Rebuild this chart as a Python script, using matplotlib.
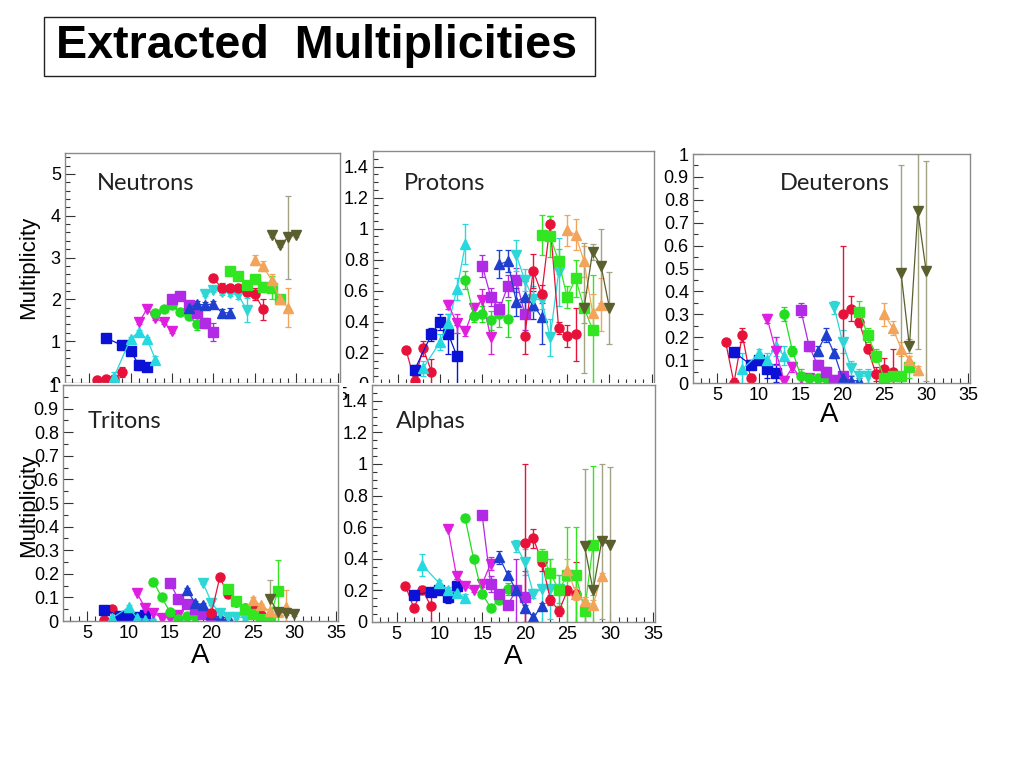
""" Extracted multiplicities per emitted particle """
import numpy as np
import matplotlib
matplotlib.use('Agg')
import matplotlib.pyplot as plt
from matplotlib.patches import Rectangle
from matplotlib.ticker import MultipleLocator, AutoMinorLocator, FormatStrFormatter

nan = np.nan

# Mass numbers of each isotope chain (Li .. Si)
ISOTOPES = ['Li', 'Be', 'B', 'C', 'N', 'O', 'F', 'Ne', 'Na', 'Mg', 'Al', 'Si']
A_LI = [6, 7, 8, 9]
A_BE = [7, 9, 10, 11, 12]
A_B = [8, 10, 11, 12, 13]
A_C = [11, 12, 13, 14, 15, 16]
A_N = [13, 14, 15, 16, 17, 18]
A_O = [15, 16, 17, 18, 19, 20]
A_F = [17, 18, 19, 20, 21, 22]
A_NE = [19, 20, 21, 22, 23, 24]
A_NA = [20, 21, 22, 23, 24, 25, 26]
A_MG = [22, 23, 24, 25, 26, 27, 28]
A_AL = [25, 26, 27, 28, 29]
A_SI = [27, 28, 29, 30]
MASS = dict(zip(ISOTOPES, [A_LI, A_BE, A_B, A_C, A_N, A_O, A_F, A_NE, A_NA, A_MG, A_AL, A_SI]))

# Neutrons
NEUTRON_M = {
    'Li': [0.06, 0.09, 0.09, 0.27], 'Be': [1.08, 0.90, 0.77, 0.43, 0.39],
    'B': [0.14, 1.06, 1.22, 1.05, 0.56], 'C': [1.45, 1.77, 1.55, 1.45, 1.24, nan],
    'N': [1.68, 1.78, 1.86, 1.70, 1.60, 1.42], 'O': [2.02, 2.09, 1.86, 1.67, 1.44, 1.22],
    'F': [1.80, 1.88, 1.87, 1.89, 1.68, 1.68], 'Ne': [2.12, 2.22, 2.18, 2.15, 2.10, 1.75],
    'Na': [2.50, 2.27, 2.27, 2.27, 2.18, 2.12, 1.76], 'Mg': [2.68, 2.56, 2.35, 2.49, 2.30, 2.28, 2.01],
    'Al': [2.93, 2.79, 2.46, 2.02, 1.80], 'Si': [3.55, 3.30, 3.48, 3.55]}
NEUTRON_E = {
    'Li': [0.02, 0.03, 0.04, 0.12], 'Be': [0.04, 0.04, 0.04, 0.12, 0.05],
    'B': [0.12, 0.05, 0.05, 0.05, 0.08], 'C': [0.04, 0.04, 0.05, 0.05, 0.05, 0],
    'N': [0.05, 0.04, 0.05, 0.06, 0.06, 0.15], 'O': [0.05, 0.05, 0.07, 0.10, 0.12, 0.22],
    'F': [0.06, 0.08, 0.06, 0.06, 0.08, 0.12], 'Ne': [0.05, 0.05, 0.07, 0.07, 0.10, 0.28],
    'Na': [0.05, 0.12, 0.10, 0.07, 0.10, 0.14, 0.25], 'Mg': [0.10, 0.06, 0.10, 0.06, 0.12, 0.28, 0.08],
    'Al': [0.12, 0.12, 0.15, 0.05, 0.47], 'Si': [0.05, 0.05, 1.00, 0.05]}

# Protons
PROTON_M = {
    'Li': [0.22, 0.02, 0.23, 0.08], 'Be': [0.09, 0.32, 0.40, 0.32, 0.18],
    'B': [0.10, 0.27, 0.39, 0.61, 0.90], 'C': [0.51, 0.39, 0.34, 0.49, 0.54, 0.30],
    'N': [0.67, 0.44, 0.45, 0.41, 0.45, 0.42], 'O': [0.76, 0.56, 0.48, 0.63, 0.67, 0.45],
    'F': [0.77, 0.79, 0.53, 0.56, 0.51, 0.43], 'Ne': [0.83, 0.67, 0.55, 0.54, 0.30, 0.72],
    'Na': [0.31, 0.73, 0.58, 1.03, 0.36, 0.31, 0.32], 'Mg': [0.96, 0.95, 0.79, 0.56, 0.68, 0.49, 0.35],
    'Al': [0.99, 0.96, 0.79, 0.46, 0.51], 'Si': [0.49, 0.85, 0.76, 0.49]}
PROTON_E = {
    'Li': [0.02, 0.03, 0.05, 0.08], 'Be': [0.03, 0.04, 0.05, 0.13, 0.20],
    'B': [0.05, 0.05, 0.06, 0.07, 0.13], 'C': [0.03, 0.06, 0.03, 0.03, 0.07, 0.11],
    'N': [0.06, 0.04, 0.05, 0.06, 0.08, 0.12], 'O': [0.07, 0.06, 0.05, 0.07, 0.08, 0.10],
    'F': [0.09, 0.07, 0.09, 0.10, 0.09, 0.17], 'Ne': [0.10, 0.07, 0.08, 0.06, 0.12, 0.22],
    'Na': [0.12, 0.11, 0.06, 0.05, 0.04, 0.07, 0.17], 'Mg': [0.13, 0.13, 0.08, 0.07, 0.12, 0.10, 0.35],
    'Al': [0.10, 0.10, 0.10, 0.12, 0.17], 'Si': [0.42, 0.05, 0.24, 0.23]}

# Deuterons
DEUTERON_M = {
    'Li': [0.18, 0.00, 0.21, 0.02], 'Be': [0.135, 0.08, 0.10, 0.06, 0.045],
    'B': [0.06, 0.13, 0.10, 0.16, 0.12], 'C': [0.28, 0.14, 0.01, 0.07, 0.02, 0.02],
    'N': [0.30, 0.14, 0.03, 0.02, 0.02, 0.02], 'O': [0.32, 0.16, 0.08, 0.05, 0.015, 0.03],
    'F': [0.14, 0.21, 0.13, 0.02, 0.01, 0.01], 'Ne': [0.33, 0.18, 0.065, 0.03, 0.03, nan],
    'Na': [0.30, 0.325, 0.265, 0.15, 0.04, 0.06, 0.05], 'Mg': [0.31, 0.21, 0.12, 0.02, 0.03, 0.03, 0.07],
    'Al': [0.30, 0.24, 0.15, 0.10, 0.055], 'Si': [0.48, 0.16, 0.75, 0.49]}
DEUTERON_E = {
    'Li': [0.01, 0.02, 0.03, 0.02], 'Be': [0.02, 0.02, 0.02, 0.04, 0.04],
    'B': [0.07, 0.02, 0.03, 0.04, 0.04], 'C': [0.02, 0.06, 0.02, 0.02, 0.02, 0.02],
    'N': [0.03, 0.02, 0.03, 0.02, 0.02, 0.02], 'O': [0.03, 0.02, 0.02, 0.02, 0.02, 0.02],
    'F': [0.02, 0.03, 0.02, 0.02, 0.02, 0.01], 'Ne': [0.03, 0.05, 0.03, 0.03, 0.03, 0],
    'Na': [0.30, 0.055, 0.02, 0.02, 0.03, 0.05, 0.10], 'Mg': [0.05, 0.03, 0.03, 0.02, 0.02, 0.02, 0.05],
    'Al': [0.05, 0.03, 0.03, 0.02, 0.02], 'Si': [0.47, 0.03, 0.60, 0.48]}

# Tritons
TRITON_M = {
    'Li': [nan, 0.005, 0.05, 0.01], 'Be': [0.048, 0.022, 0.012, 0.018, 0.024],
    'B': [0.012, 0.058, 0.014, 0.005, 0.005], 'C': [0.12, 0.055, 0.034, 0.014, 0.014, 0.024],
    'N': [0.167, 0.10, 0.038, 0.007, 0.022, 0.02], 'O': [0.163, 0.092, 0.07, 0.052, 0.03, 0.025],
    'F': [0.133, 0.078, 0.067, 0.03, 0.015, 0.015], 'Ne': [0.16, 0.078, 0.032, 0.018, 0.018, 0.014],
    'Na': [0.035, 0.185, 0.113, 0.08, 0.055, 0.055, 0.025], 'Mg': [0.136, 0.084, 0.052, 0.031, 0.01, 0.01, 0.127],
    'Al': [0.09, 0.066, 0.042, 0.04, 0.06], 'Si': [0.095, 0.038, 0.034, 0.03]}
TRITON_E = {
    'Li': [0, 0.005, 0.01, 0.01], 'Be': [0.005, 0.005, 0.005, 0.005, 0.008],
    'B': [0.01, 0.008, 0.005, 0.005, 0.005], 'C': [0.005, 0.01, 0.005, 0.005, 0.005, 0.005],
    'N': [0.005, 0.005, 0.005, 0.005, 0.005, 0.005], 'O': [0.005, 0.005, 0.005, 0.005, 0.005, 0.005],
    'F': [0.008, 0.008, 0.008, 0.008, 0.008, 0.01], 'Ne': [0.005, 0.01, 0.01, 0.008, 0.008, 0.008],
    'Na': [0.01, 0.015, 0.01, 0.008, 0.008, 0.01, 0.01], 'Mg': [0.008, 0.005, 0.005, 0.005, 0.005, 0.005, 0.13],
    'Al': [0.01, 0.008, 0.008, 0.008, 0.07], 'Si': [0.08, 0.01, 0.01, 0.01]}

# Alphas
ALPHA_M = {
    'Li': [0.23, 0.09, 0.205, 0.10], 'Be': [0.17, 0.19, 0.20, 0.16, 0.23],
    'B': [0.36, 0.245, 0.20, 0.185, 0.155], 'C': [0.59, 0.29, 0.23, 0.20, 0.24, 0.37],
    'N': [0.66, 0.40, 0.18, 0.09, 0.14, 0.21], 'O': [0.68, 0.24, 0.18, 0.11, 0.20, 0.16],
    'F': [0.41, 0.30, 0.20, 0.09, 0.03, 0.10], 'Ne': [0.48, 0.38, 0.18, 0.21, 0.21, 0.21],
    'Na': [0.50, 0.53, 0.38, 0.14, 0.07, 0.20, 0.18], 'Mg': [0.42, 0.31, 0.20, 0.30, 0.30, 0.07, 0.49],
    'Al': [0.33, 0.18, 0.13, 0.11, 0.29], 'Si': [0.48, 0.20, 0.51, 0.49]}
ALPHA_E = {
    'Li': [0.01, 0.02, 0.02, 0.10], 'Be': [0.02, 0.02, 0.02, 0.04, 0.04],
    'B': [0.07, 0.02, 0.02, 0.03, 0.02], 'C': [0.01, 0.02, 0.01, 0.01, 0.02, 0.04],
    'N': [0.02, 0.01, 0.02, 0.01, 0.02, 0.04], 'O': [0.02, 0.05, 0.02, 0.02, 0.20, 0.16],
    'F': [0.04, 0.02, 0.02, 0.02, 0.02, 0.02], 'Ne': [0.04, 0.08, 0.03, 0.21, 0.19, 0.09],
    'Na': [0.50, 0.06, 0.06, 0.03, 0.03, 0.03, 0.20], 'Mg': [0.04, 0.09, 0.10, 0.30, 0.30, 0.07, 0.50],
    'Al': [0.07, 0.04, 0.03, 0.03, 0.02], 'Si': [0.49, 0.03, 0.49, 0.49]}

# colour and marker per isotope chain
STYLE = {
    'Li': ('#e8113a', 'o'), 'Be': ('#0b12d6', 's'), 'B': ('#26d9e0', '^'),
    'C': ('#e01ee0', 'v'), 'N': ('#22dd22', 'o'), 'O': ('#b12ae6', 's'),
    'F': ('#1f3fd0', '^'), 'Ne': ('#2fd6d6', 'v'), 'Na': ('#e8113a', 'o'),
    'Mg': ('#33e622', 's'), 'Al': ('#f2a55a', '^'), 'Si': ('#5b5f2e', 'v'),
}

W, H = 1024, 768
fig = plt.figure(figsize=(W / 100, H / 100), dpi=100)
TICKFONT = 'Liberation Sans'


def px(l, t, r, b):
    """ pixel box -> figure fraction rect """
    return [l / W, 1 - b / H, (r - l) / W, (b - t) / H]


def draw_panel(frame, pad, mult, err, ylim, ymajor, yminor, title, tpos):
    # white pad first, so later panels hide the labels of earlier ones
    padax = fig.add_axes(px(*pad))
    padax.axis('off')
    padax.add_patch(Rectangle((0, 0), 1, 1, transform=padax.transAxes, fc='white', ec='none'))

    ax = fig.add_axes(px(*frame))
    for el in ISOTOPES:
        c, m = STYLE[el]
        ec = '#a3a384' if el == 'Si' else c
        ax.errorbar(MASS[el], mult[el], yerr=err[el], color=c, ecolor=ec, marker=m,
                    ms=6.5, lw=0.9, elinewidth=1.0, capsize=2, capthick=0.9)

    ax.set_xlim(2.1, 35.25)
    ax.set_ylim(*ylim)
    ax.xaxis.set_major_locator(MultipleLocator(5))
    ax.xaxis.set_minor_locator(MultipleLocator(1))
    ax.yaxis.set_major_locator(MultipleLocator(ymajor))
    ax.yaxis.set_minor_locator(AutoMinorLocator(yminor))
    ax.yaxis.set_major_formatter(FormatStrFormatter('%g'))
    ax.tick_params(which='both', direction='in', top=False, right=False, color='#333333',
                   labelsize=13, pad=3)
    ax.tick_params(which='major', length=7, width=0.8)
    ax.tick_params(which='minor', length=3.5, width=0.8)
    for lab in ax.get_xticklabels() + ax.get_yticklabels():
        lab.set_fontfamily(TICKFONT)
    for s in ax.spines.values():
        s.set_color('#8a8a8a')
        s.set_linewidth(1.0)
    fig.text(tpos[0] / W, 1 - tpos[1] / H, title, family='Lato', fontsize=17,
             color='#222222', ha='left', va='center')
    return ax


# drawing order mimics the overlapping canvas pads
draw_panel((373, 151, 654, 384), (343, 140, 660, 385), PROTON_M, PROTON_E,
           (0, 1.5), 0.2, 4, 'Protons', (404, 183))
draw_panel((372, 385, 655, 622), (343, 383, 660, 700), ALPHA_M, ALPHA_E,
           (0, 1.5), 0.2, 4, 'Alphas', (396, 422))
draw_panel((65, 153, 340, 383), (0, 140, 343, 385), NEUTRON_M, NEUTRON_E,
           (0, 5.5), 1, 5, 'Neutrons', (97, 183))
draw_panel((63, 385, 338, 621), (0, 383, 343, 700), TRITON_M, TRITON_E,
           (0, 1.0), 0.1, 2, 'Tritons', (88, 422))
draw_panel((693, 154, 970, 383), (660, 140, 1024, 440), DEUTERON_M, DEUTERON_E,
           (0, 1.0), 0.1, 2, 'Deuterons', (780, 183))

# axis titles (the tritons one sits over the tick labels, as in the original)
for x, y in [(29, 267), (29, 505)]:
    fig.text(x / W, 1 - y / H, 'Multiplicity', family=TICKFONT, fontsize=16,
             rotation=90, ha='center', va='center')
for x, y in [(829, 415), (200, 656), (513, 657)]:
    fig.text(x / W, 1 - y / H, 'A', family=TICKFONT, fontsize=20, ha='center', va='center')

# slide title in a box
fig.patches.append(Rectangle((44 / W, 1 - 76 / H), 551 / W, 59 / H, transform=fig.transFigure,
                             fill=False, ec='#222222', lw=1.0))
fig.text(56 / W, 1 - 46 / H, 'Extracted  Multiplicities', family=TICKFONT, weight='bold',
         fontsize=33.6, ha='left', va='center')

fig.savefig('out.png', dpi=100)
